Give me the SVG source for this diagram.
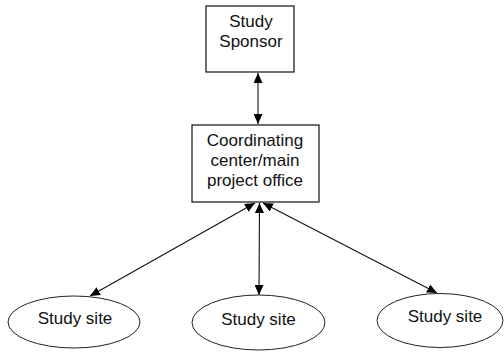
<svg xmlns="http://www.w3.org/2000/svg" width="504" height="355" viewBox="0 0 504 355">
  <style>
    .box { fill: #ffffff; stroke: #222222; stroke-width: 1.3; }
    .oval { fill: #ffffff; stroke: #222222; stroke-width: 1; }
    .lbl { font-family: "Liberation Sans", Arial, sans-serif; font-size: 17px; fill: #111111; text-anchor: middle; }
    .conn { stroke: #111111; stroke-width: 1.1; fill: none; marker-start: url(#ah); marker-end: url(#ah); }
  </style>
  <defs>
    <marker id="ah" viewBox="0 0 10 9" refX="10" refY="4.5" markerWidth="10" markerHeight="9" markerUnits="userSpaceOnUse" orient="auto-start-reverse">
      <path d="M0,0 L10,4.5 L0,9 z" fill="#000000"/>
    </marker>
  </defs>
  <rect width="504" height="355" fill="#ffffff"/>
  <g id="connectors">
    <path class="conn" d="M258,73 L258,124"/>
    <path class="conn" d="M255,203 L90,296"/>
    <path class="conn" d="M259.5,203 L259,295"/>
    <path class="conn" d="M263,203 L437,293"/>
  </g>
  <g id="sponsor">
    <rect class="box" x="206" y="6" width="88" height="66"/>
    <text class="lbl" x="251" y="26.5">Study</text>
    <text class="lbl" x="251" y="46.5">Sponsor</text>
  </g>
  <g id="coordinating">
    <rect class="box" x="192" y="125" width="127" height="77"/>
    <text class="lbl" x="255" y="145.5">Coordinating</text>
    <text class="lbl" x="255" y="165.5">center/main</text>
    <text class="lbl" x="255" y="185.5">project office</text>
  </g>
  <g id="site1">
    <ellipse class="oval" cx="74" cy="322" rx="66" ry="26"/>
    <text class="lbl" x="75" y="323.5">Study site</text>
  </g>
  <g id="site2">
    <ellipse class="oval" cx="258.5" cy="322.5" rx="66.5" ry="27.5"/>
    <text class="lbl" x="258.5" y="325">Study site</text>
  </g>
  <g id="site3">
    <ellipse class="oval" cx="440" cy="320.5" rx="63" ry="27"/>
    <text class="lbl" x="445" y="321.5">Study site</text>
  </g>
</svg>
